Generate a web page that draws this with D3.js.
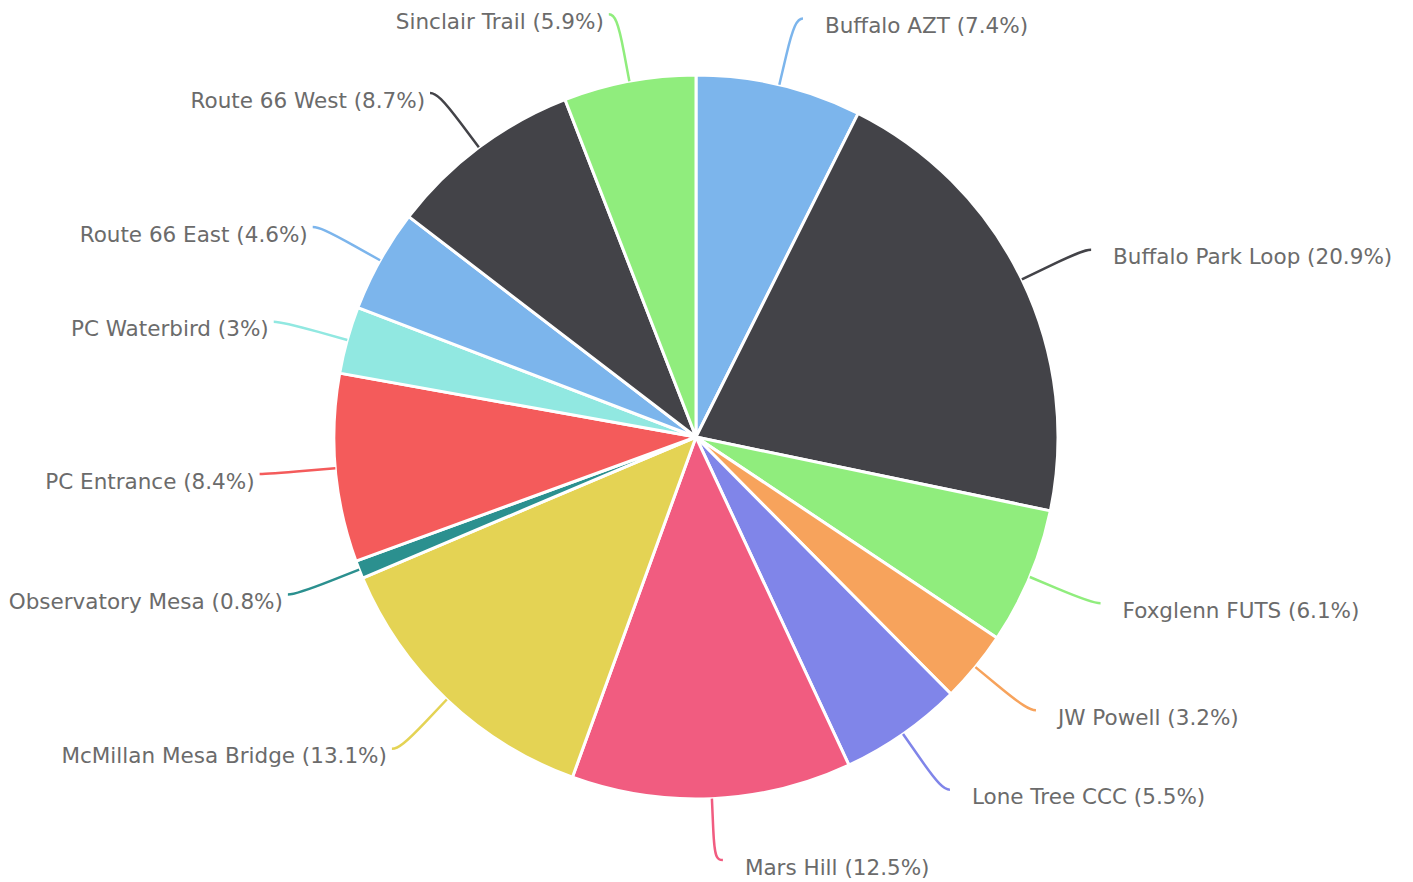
<!DOCTYPE html>
<html>
<head>
<meta charset="utf-8">
<title>Trail counts pie</title>
<script src="https://cdn.jsdelivr.net/npm/d3@7/dist/d3.min.js"></script>
<style type="text/css">
	body {
		margin: 0;
		background: #fff;
	}
	.slice {
		stroke: #fff;
		stroke-width: 3px;
		stroke-linejoin: round;
	}
	.connector {
		fill: none;
		stroke-width: 2.5px;
	}
	.label {
		font-family: "DejaVu Sans", sans-serif;
		font-size: 21.5px;
		fill: #6b6b6b;
	}
</style>
</head>
<body>
<script type="text/javascript">

var width = 1413,
    height = 882;

// trail names and their share of counts, clockwise from 12 o'clock
var trails = ["Buffalo AZT", "Buffalo Park Loop", "Foxglenn FUTS", "JW Powell", "Lone Tree CCC",
              "Mars Hill", "McMillan Mesa Bridge", "Observatory Mesa", "PC Entrance", "PC Waterbird",
              "Route 66 East", "Route 66 West", "Sinclair Trail"];
var shares = [7.4, 20.9, 6.1, 3.2, 5.5, 12.5, 13.1, 0.8, 8.4, 3, 4.6, 8.7, 5.9];

// default highcharts palette, wraps round after ten
var palette = ["#7cb5ec", "#434348", "#90ed7d", "#f7a35c", "#8085e9",
               "#f15c80", "#e4d354", "#2b908f", "#f45b5b", "#91e8e1"];

var cx = 696, cy = 437,
    radius = 362,
    labelR = 430,
    breakR = 392;

var color = d3.scaleOrdinal().domain(d3.range(trails.length)).range(palette);

var pie = d3.pie().sort(null).value(function(d) { return d; });
var arc = d3.arc().innerRadius(0).outerRadius(radius);

var arcs = pie(shares);

var svg = d3.select("body").append("svg")
	.attr("width", width)
	.attr("height", height);

var g = svg.append("g").attr("transform", "translate(" + cx + "," + cy + ")");

g.selectAll("path.slice")
	.data(arcs).enter()
	.append("path")
	.attr("class", "slice")
	.attr("fill", function(d, i) { return color(i); })
	.attr("d", arc);

function polar(r, a) {
	return [r * Math.sin(a), -r * Math.cos(a)];
}

// label anchor points, kept inside the picture
arcs.forEach(function(d, i) {
	var a = (d.startAngle + d.endAngle) / 2;
	var right = a < Math.PI;
	var p = polar(labelR, a);
	var ex = p[0] + (right ? 8 : -8);
	var ey = Math.min(p[1], height - cy - 22);
	d.right = right;
	d.end = [ex, ey];
	d.brk = polar(breakR, a);
	d.touch = polar(radius, a);
});

g.selectAll("path.connector")
	.data(arcs).enter()
	.append("path")
	.attr("class", "connector")
	.attr("stroke", function(d, i) { return color(i); })
	.attr("d", function(d) {
		var e = d.end, b = d.brk, t = d.touch;
		var p = d3.path();
		p.moveTo(e[0], e[1]);
		p.bezierCurveTo(e[0] + (d.right ? -6 : 6), e[1], 2 * b[0] - t[0], 2 * b[1] - t[1], b[0], b[1]);
		p.lineTo(t[0], t[1]);
		return p.toString();
	});

g.selectAll("text.label")
	.data(arcs).enter()
	.append("text")
	.attr("class", "label")
	.attr("x", function(d) { return d.end[0] + (d.right ? 22 : -5); })
	.attr("y", function(d) { return d.end[1] + 7; })
	.attr("dy", "0.35em")
	.attr("text-anchor", function(d) { return d.right ? "start" : "end"; })
	.text(function(d, i) { return trails[i] + " (" + shares[i] + "%)"; });

</script>
</body>
</html>
